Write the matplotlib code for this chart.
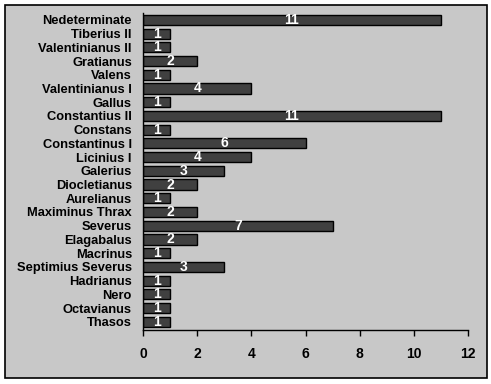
import matplotlib
matplotlib.use("Agg")
import matplotlib.pyplot as plt
from matplotlib.patches import Rectangle

# top-to-bottom as in the reference
names = ["Nedeterminate", "Tiberius II", "Valentinianus II", "Gratianus", "Valens",
         "Valentinianus I", "Gallus", "Constantius II", "Constans", "Constantinus I",
         "Licinius I", "Galerius", "Diocletianus", "Aurelianus", "Maximinus Thrax",
         "Severus", "Elagabalus", "Macrinus", "Septimius Severus", "Hadrianus",
         "Nero", "Octavianus", "Thasos"]
counts = [11, 1, 1, 2, 1, 4, 1, 11, 1, 6, 4, 3, 2, 1, 2, 7, 2, 1, 3, 1, 1, 1, 1]
xticks = [0, 2, 4, 6, 8, 10, 12]

plt.rcParams["font.family"] = ["Liberation Sans", "DejaVu Sans"]
BG = "#c8c8c8"

fig = plt.figure(figsize=(4.91, 3.84), dpi=100)
fig.patch.set_facecolor("white")
fig.patches.append(Rectangle((5 / 491, 6 / 384), 482 / 491, 373 / 384,
                             transform=fig.transFigure, facecolor=BG,
                             edgecolor="black", linewidth=1.2, zorder=-10))
ax = fig.add_axes([143 / 491, 54 / 384, 325 / 491, 317 / 384])
ax.set_facecolor("none")

ypos = list(range(len(names)))[::-1]
ax.barh(ypos, counts, height=0.74, color="#404040", edgecolor="black", linewidth=1)
for y, v in zip(ypos, counts):
    ax.text(v / 2, y, str(v), ha="center", va="center", color="white",
            fontsize=10, fontweight="bold")

ax.set_yticks(ypos)
ax.set_yticklabels(names, fontsize=9.3, fontweight="bold")
ax.set_ylim(-0.6, len(names) - 0.5)
ax.set_xlim(0, 12)
ax.set_xticks(xticks)
ax.set_xticklabels([str(t) for t in xticks], fontsize=10, fontweight="bold")
ax.tick_params(axis="y", length=0, pad=8)
ax.tick_params(axis="x", length=4, width=1, pad=8, direction="out")
for s in ("top", "right"):
    ax.spines[s].set_visible(False)
for s in ("left", "bottom"):
    ax.spines[s].set_linewidth(1)

fig.savefig("out.png", dpi=100)
